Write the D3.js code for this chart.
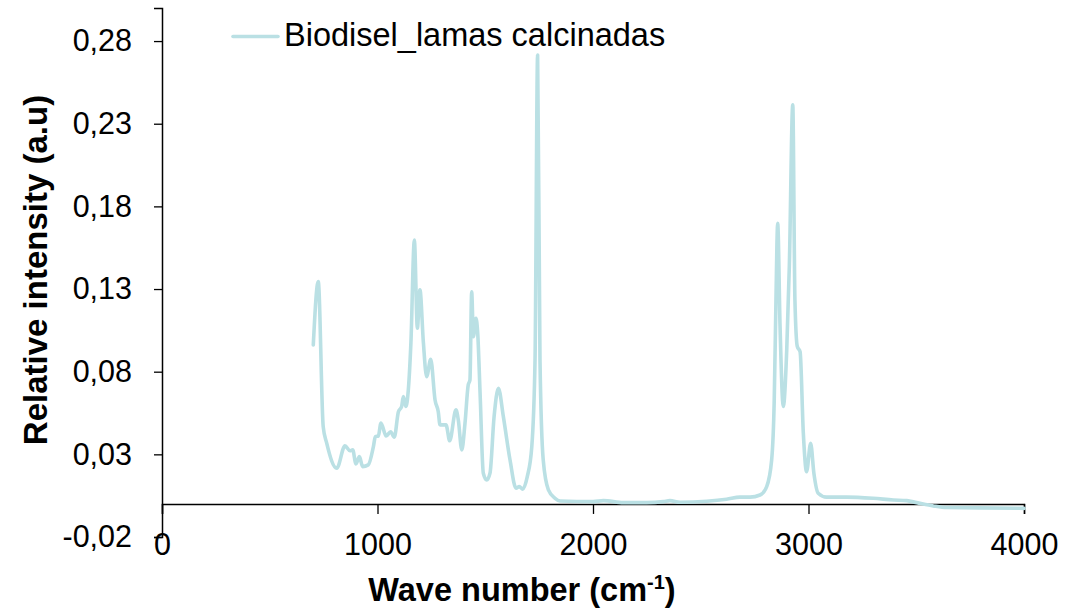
<!DOCTYPE html>
<html>
<head>
<meta charset="utf-8">
<script src="https://cdn.jsdelivr.net/npm/d3@7"></script>
<style>
  html, body { margin: 0; padding: 0; background: #ffffff; }
  svg { display: block; font-family: "Liberation Sans", Arial, sans-serif; }
</style>
</head>
<body>
<svg id="chart" width="1081" height="609"></svg>
<script>
// ---- data ----
const seriesName = "Biodisel_lamas calcinadas";
const waveNumber = [702, 725, 748, 764, 811, 849, 872, 885, 900, 916, 931, 957, 981, 990, 1004, 1016, 1040, 1061, 1078, 1097, 1112, 1120, 1132, 1143, 1155, 1171, 1185, 1197, 1213, 1228, 1247, 1267, 1282, 1290, 1318, 1335, 1364, 1375, 1391, 1406, 1421, 1429, 1437, 1445, 1457, 1465, 1476, 1491, 1507, 1522, 1541, 1561, 1584, 1615, 1643, 1658, 1674, 1695, 1716, 1731, 1743, 1754, 1769, 1793, 1824, 1847, 2001, 2048, 2141, 2249, 2326, 2357, 2404, 2528, 2620, 2682, 2729, 2775, 2806, 2829, 2841, 2849, 2857, 2868, 2883, 2899, 2911, 2927, 2937, 2948, 2961, 2976, 2991, 3010, 3025, 3045, 3084, 3177, 3300, 3394, 3456, 3502, 3579, 3641, 3981, 4000];
const intensity = [0.0962, 0.1345, 0.0468, 0.0369, 0.0216, 0.0351, 0.0322, 0.0327, 0.0242, 0.0286, 0.0226, 0.0236, 0.0347, 0.0407, 0.0411, 0.0490, 0.0411, 0.0437, 0.0404, 0.0558, 0.0589, 0.0649, 0.0589, 0.0690, 0.0974, 0.1597, 0.1063, 0.1295, 0.0974, 0.0770, 0.0875, 0.0629, 0.0558, 0.0478, 0.0478, 0.0382, 0.0569, 0.0508, 0.0327, 0.0488, 0.0720, 0.0750, 0.1284, 0.1012, 0.1123, 0.1033, 0.0671, 0.0186, 0.0145, 0.0186, 0.0528, 0.0700, 0.0528, 0.0266, 0.0095, 0.0105, 0.0089, 0.0165, 0.0347, 0.0871, 0.2716, 0.0871, 0.0266, 0.0085, 0.0034, 0.0018, 0.0014, 0.0020, 0.0008, 0.0008, 0.0014, 0.0020, 0.0010, 0.0016, 0.0028, 0.0041, 0.0041, 0.0054, 0.0105, 0.0266, 0.0629, 0.1234, 0.1698, 0.1073, 0.0589, 0.0932, 0.1436, 0.2414, 0.1234, 0.0952, 0.0921, 0.0428, 0.0195, 0.0367, 0.0186, 0.0065, 0.0041, 0.0041, 0.0034, 0.0024, 0.0020, 0.0008, -0.0012, -0.0022, -0.0026, -0.0027];
const xTicks = [0, 1000, 2000, 3000, 4000];
const yTicks = [-0.02, 0.03, 0.08, 0.13, 0.18, 0.23, 0.28];
const xTitle = "Wave number (cm";
const yTitle = "Relative intensity (a.u)";

// ---- layout ----
const svg = d3.select("#chart");
const plotL = 162, plotR = 1024, plotT = 8, plotB = 537;
const x = d3.scaleLinear().domain([0, 4000]).range([plotL, plotR]);
const y = d3.scaleLinear().domain([-0.02, 0.30]).range([plotB, plotT]);
const fmt = v => d3.format(".2f")(v).replace(".", ",").replace("\u2212", "-");

svg.append("rect").attr("width", 1081).attr("height", 609).attr("fill", "#ffffff");

// y axis (line at x=0)
const yAxis = d3.axisLeft(y).tickValues(yTicks).tickSize(8).tickPadding(22).tickFormat(fmt);
const gy = svg.append("g").attr("transform", `translate(${x(0)},0)`).call(yAxis);
gy.select(".domain").attr("stroke", "#000").attr("stroke-width", 1.5);
gy.selectAll(".tick line").attr("stroke", "#000").attr("stroke-width", 1.3);
gy.selectAll(".tick text").attr("font-size", 30.5).attr("fill", "#000")
  .attr("font-family", "'Liberation Sans', Arial, sans-serif");

// x axis (line at y=0), labels at bottom
const xAxis = d3.axisBottom(x).tickValues(xTicks).tickSize(10).tickFormat(d => d);
const gx = svg.append("g").attr("transform", `translate(0,${y(0)})`).call(xAxis);
gx.select(".domain").attr("stroke", "#000").attr("stroke-width", 1.5);
gx.selectAll(".tick line").attr("stroke", "#000").attr("stroke-width", 1.3);
gx.selectAll(".tick text").attr("font-size", 30.5).attr("fill", "#000")
  .attr("font-family", "'Liberation Sans', Arial, sans-serif")
  .attr("y", 555 - y(0)).attr("dy", null);

// series line
const pts = waveNumber.map((w, i) => [w, intensity[i]]);
const line = d3.line().x(d => x(d[0])).y(d => y(d[1])).curve(d3.curveMonotoneX);
svg.append("path").datum(pts)
  .attr("d", line)
  .attr("fill", "none")
  .attr("stroke", "#bae0e4")
  .attr("stroke-width", 3.6)
  .attr("stroke-linejoin", "round")
  .attr("stroke-linecap", "round");

// legend
svg.append("line").attr("x1", 233).attr("x2", 278).attr("y1", 36.5).attr("y2", 36.5)
  .attr("stroke", "#bae0e4").attr("stroke-width", 3.6).attr("stroke-linecap", "round");
svg.append("text").attr("x", 284).attr("y", 46).attr("font-size", 32.5).attr("fill", "#000")
  .text(seriesName);

// axis titles
const xt = svg.append("text").attr("x", 522).attr("y", 601).attr("text-anchor", "middle")
  .attr("font-size", 32.5).attr("font-weight", "bold").attr("fill", "#000");
xt.append("tspan").text(xTitle);
xt.append("tspan").attr("font-size", 20).attr("dy", -12).text("-1");
xt.append("tspan").attr("dy", 12).text(")");

svg.append("text").attr("transform", "translate(47,270) rotate(-90)")
  .attr("text-anchor", "middle").attr("font-size", 33).attr("font-weight", "bold")
  .attr("fill", "#000").text(yTitle);
</script>
</body>
</html>
